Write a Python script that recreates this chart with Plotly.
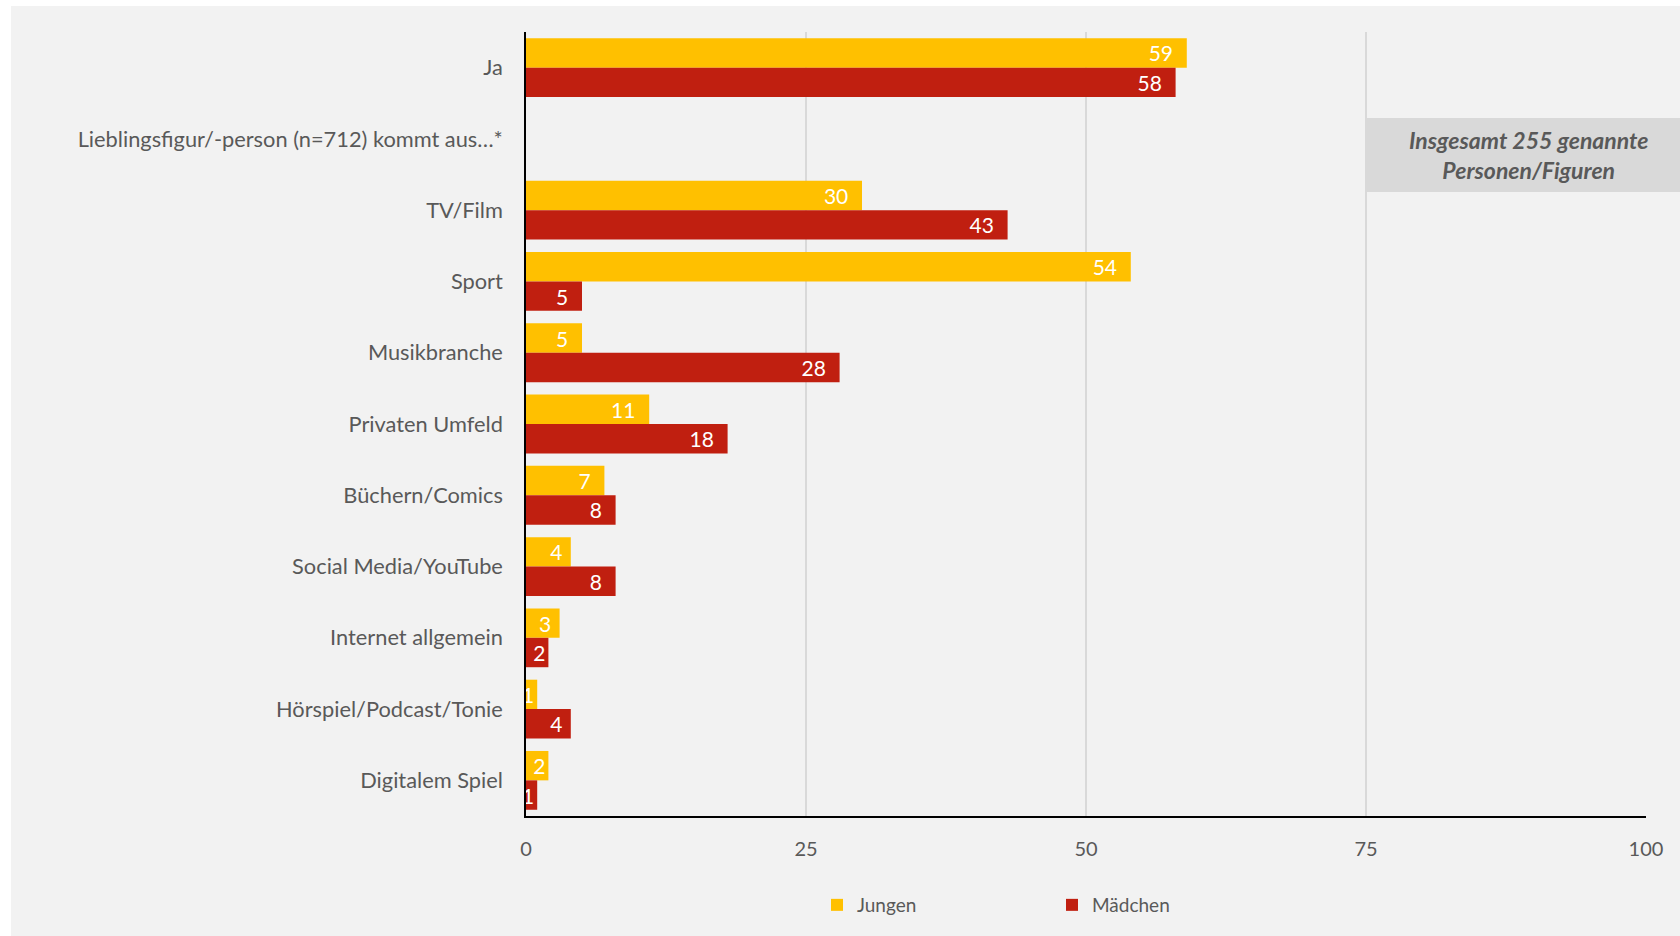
import plotly.graph_objects as go

# Kategorien von oben nach unten
categories = [
    "Ja",
    "Lieblingsfigur/-person (n=712) kommt aus…*",
    "TV/Film",
    "Sport",
    "Musikbranche",
    "Privaten Umfeld",
    "Büchern/Comics",
    "Social Media/YouTube",
    "Internet allgemein",
    "Hörspiel/Podcast/Tonie",
    "Digitalem Spiel",
]
jungen = [59, None, 30, 54, 5, 11, 7, 4, 3, 1, 2]
maedchen = [58, None, 43, 5, 28, 18, 8, 8, 2, 4, 1]
x_ticks = [0, 25, 50, 75, 100]

FONT = "Lato, Calibri, Carlito, sans-serif"
GREY_TEXT = "#595959"
NBSP = "\u00a0"  # Abstand des Wertes zum Balkenende

W, H = 1680, 936
L, R, T, B = 526, 34, 32, 120
pw, ph = W - L - R, H - T - B


def px_x(px):
    return (px - L) / pw


def px_y(py):
    return (H - B - py) / ph


def labels(vals):
    out = []
    for v in vals:
        if v is None:
            out.append("")
        elif v >= 5:
            out.append(str(v) + NBSP * 2)
        elif v >= 3:
            out.append(str(v) + NBSP)
        else:
            out.append(str(v))
    return out


fig = go.Figure()
fig.add_trace(go.Bar(
    name="Jungen", y=categories, x=jungen, orientation="h",
    marker=dict(color="#FFC000", line=dict(width=0)),
    text=labels(jungen), textposition="inside", insidetextanchor="end",
    textangle=0,
    textfont=dict(color="white", size=21, family=FONT),
    constraintext="none", cliponaxis=False,
))
fig.add_trace(go.Bar(
    name="Mädchen", y=categories, x=maedchen, orientation="h",
    marker=dict(color="#C01F10", line=dict(width=0)),
    text=labels(maedchen), textposition="inside", insidetextanchor="end",
    textangle=0,
    textfont=dict(color="white", size=21, family=FONT),
    constraintext="none", cliponaxis=False,
))

# grauer Hintergrund des Diagrammbereichs
fig.add_shape(type="rect", xref="paper", yref="paper",
              x0=px_x(11), x1=px_x(W + 20), y0=px_y(H + 20), y1=px_y(6),
              fillcolor="#F2F2F2", line=dict(width=0), layer="below")

# Hinweisbox rechts oben
fig.add_shape(type="rect", xref="paper", yref="paper",
              x0=px_x(1366), x1=px_x(W + 20), y0=px_y(192), y1=px_y(118),
              fillcolor="#D9D9D9", line=dict(width=0), layer="above")
fig.add_annotation(
    xref="paper", yref="paper", x=px_x(1528), y=px_y(155),
    xanchor="center", yanchor="middle",
    text="<b><i>Insgesamt 255 genannte<br>Personen/Figuren</i></b>",
    showarrow=False, align="center",
    font=dict(size=23, color=GREY_TEXT, family=FONT),
)

fig.update_layout(
    width=W, height=H,
    margin=dict(l=L, r=R, t=T, b=B, pad=0),
    paper_bgcolor="white",
    plot_bgcolor="rgba(0,0,0,0)",
    barmode="group", bargap=0.175, bargroupgap=0,
    font=dict(family=FONT, color=GREY_TEXT, size=20),
    legend=dict(
        orientation="h", x=px_x(817), y=px_y(905), xanchor="left", yanchor="middle",
        font=dict(size=19, color=GREY_TEXT, family=FONT),
        bgcolor="rgba(0,0,0,0)", entrywidth=190, itemwidth=30,
        traceorder="normal",
    ),
    xaxis=dict(
        range=[0, 100], tickvals=x_ticks, ticktext=[str(v) for v in x_ticks],
        showgrid=True, gridcolor="#D9D9D9", gridwidth=2,
        zeroline=False, showline=True, linecolor="black", linewidth=1.5,
        ticks="", ticklabelstandoff=14,
        tickfont=dict(size=20, color=GREY_TEXT, family=FONT),
        fixedrange=True,
    ),
    yaxis=dict(
        autorange="reversed", type="category",
        showgrid=False, zeroline=False,
        showline=True, linecolor="black", linewidth=1.5,
        ticks="", ticklabelstandoff=17,
        tickfont=dict(size=21.8, color=GREY_TEXT, family=FONT),
        fixedrange=True,
    ),
)

fig.write_html("out.html")
